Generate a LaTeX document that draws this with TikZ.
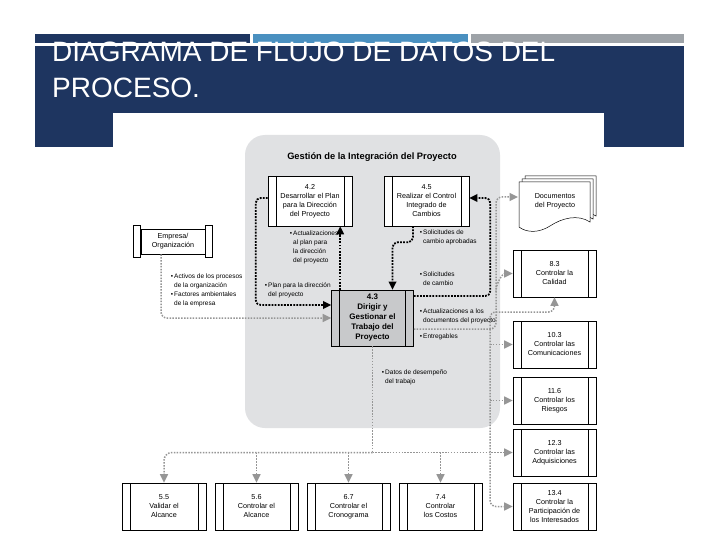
\documentclass[tikz,border=0pt]{standalone}
\usepackage{fontspec}
\setmainfont{Liberation Sans}
\usetikzlibrary{arrows.meta,calc}
\definecolor{navy}{RGB}{30,53,96}
\definecolor{stripeblue}{RGB}{74,144,192}
\definecolor{stripegray}{RGB}{158,163,168}
\definecolor{panelgray}{RGB}{224,225,227}
\definecolor{boxgray}{RGB}{200,201,203}
\definecolor{linegray}{RGB}{150,150,150}
\begin{document}
\begin{tikzpicture}[x=1pt,y=-1pt,
  proc/.style={draw, line width=0.6pt, fill=white, minimum width=83pt, minimum height=47pt,
    inner sep=0pt, align=center, font=\fontsize{7.2}{9}\selectfont,
    path picture={\draw[line width=0.6pt]
      ([xshift=8pt]path picture bounding box.north west) -- ([xshift=8pt]path picture bounding box.south west)
      ([xshift=-8pt]path picture bounding box.north east) -- ([xshift=-8pt]path picture bounding box.south east);}},
  lbl/.style={font=\fontsize{6.5}{8.7}\selectfont, align=left, inner sep=0pt, anchor=north west},
  blk/.style={draw=black, line width=1.8pt, dash pattern=on 1.8pt off 1.3pt},
  gry/.style={draw=linegray, line width=1.5pt, dash pattern=on 1.5pt off 1.4pt},
  tipb/.style={arrows={-Triangle[length=8pt,width=7.5pt]}},
  tipg/.style={arrows={-Triangle[length=8.5pt,width=8pt]}},
  ttl/.style={text=white, font=\fontsize{28}{36}\selectfont, inner sep=0pt, anchor=base west}
]
\useasboundingbox (0,0) rectangle (720,540);
\fill[white] (0,0) rectangle (720,540);
% header
\fill[navy] (35,34) rectangle (250,43);
\fill[stripeblue] (253,34) rectangle (468,43);
\fill[stripegray] (471,34) rectangle (684,43);
\fill[navy] (35,46) rectangle (684,147);
\node[ttl] (title1) at (52,62) {DIAGRAMA DE FLUJO DE DATOS DEL};
\node[ttl] (title2) at (52,98) {PROCESO.};
\fill[white] (113,113) rectangle (604,540);
% panel
\fill[panelgray, rounded corners=20pt] (245,135) rectangle (500,428);
\node[font=\bfseries\fontsize{9.3}{11}\selectfont, inner sep=0pt] (ptitle) at (372,157) {Gestión de la Integración del Proyecto};
% process nodes
\node[proc, minimum width=84pt, minimum height=50pt] (n42) at (310,201) {4.2\\Desarrollar el Plan\\para la Dirección\\del Proyecto};
\node[proc, minimum width=85pt, minimum height=50pt] (n45) at (426.5,201) {4.5\\Realizar el Control\\Integrado de\\Cambios};
\node[proc, fill=boxgray, minimum width=82pt, minimum height=56pt, font=\fontsize{8}{10}\selectfont\bfseries] (n43) at (372.5,318) {4.3\\Dirigir y\\Gestionar el\\Trabajo del\\Proyecto};
% empresa
\node[draw, line width=0.6pt, fill=white, minimum width=64pt, minimum height=25pt, inner sep=0pt, align=center, font=\fontsize{7.2}{9}\selectfont] (emp) at (173,241.5) {Empresa/\\Organización};
\draw[line width=0.6pt, fill=white] ([yshift=3pt]emp.north west) rectangle ([xshift=-7pt,yshift=-3pt]emp.south west);
\draw[line width=0.6pt, fill=white] ([yshift=3pt]emp.north east) rectangle ([xshift=7pt,yshift=-3pt]emp.south east);
% documents stack
\foreach \o in {6,3,0} {
  \filldraw[fill=white, line width=0.5pt] (519+\o,182-\o) -- (590+\o,182-\o) -- (590+\o,222-\o)
    .. controls (578+\o,214-\o) and (562+\o,218-\o) .. (550+\o,226-\o)
    .. controls (539+\o,233-\o) and (527+\o,233-\o) .. (519+\o,227-\o) -- cycle;
}
\node[font=\fontsize{7.2}{9}\selectfont, align=center, inner sep=0pt] (docs) at (555,201) {Documentos\\del Proyecto};
\coordinate (docin) at (518,197);
% right column
\node[proc] (q83) at (554.5,273.5) {8.3\\Controlar la\\Calidad};
\node[proc] (q103) at (554.5,344.5) {10.3\\Controlar las\\Comunicaciones};
\node[proc] (q116) at (554.5,400.5) {11.6\\Controlar los\\Riesgos};
\node[proc] (q123) at (554.5,452.5) {12.3\\Controlar las\\Adquisiciones};
\node[proc] (q134) at (554.5,506.5) {13.4\\Controlar la\\Participación de\\los Interesados};
% bottom row
\node[proc, minimum width=84pt] (b55) at (164,506.5) {5.5\\Validar el\\Alcance};
\node[proc] (b56) at (256.5,506.5) {5.6\\Controlar el\\Alcance};
\node[proc] (b67) at (348.5,506.5) {6.7\\Controlar el\\Cronograma};
\node[proc] (b74) at (440.5,506.5) {7.4\\Controlar\\los Costos};
% junction coordinates
\coordinate (d1) at (496,329);
\coordinate (v0) at (490,329);
\coordinate (e1) at (554.5,312);
\coordinate (b83) at (496,292);
\coordinate (hbus) at (372.5,452.5);
% black connectors
\draw[blk, tipb] ([xshift=9pt]n43.north west) -- ([xshift=9pt]n43.north west |- n42.south);
\draw[blk, tipb, rounded corners=5pt] ([yshift=3pt]n42.west) -- ++(-12,0) |- ([yshift=13pt]n43.west);
\draw[blk, tipb, rounded corners=5pt] ([xshift=-13.5pt]n45.south) -- ++(0,16) -| ([xshift=20pt]n43.north);
\draw[blk, tipb, rounded corners=5pt] ([yshift=22pt]n43.east) -| ([xshift=21pt,yshift=3pt]n45.east) -- ([yshift=3pt]n45.east);
% gray connectors
\draw[gry, tipg, rounded corners=6pt] ([xshift=-12pt]emp.south) |- (n43.west);
\draw[gry, tipg, rounded corners=6pt] ([yshift=-11pt]n43.east) -- (d1) |- (docin);
\draw[gry, tipg] (b83) to[out=90,in=180] (q83.west);
\draw[gry, tipg, rounded corners=6pt] (v0) |- (e1) -- (q83.south);
\draw[gry, tipg, rounded corners=6pt] (v0) |- (q134.west);
\draw[gry, tipg] (v0 |- q103.west) -- (q103.west);
\draw[gry, tipg] (v0 |- q116.west) -- (q116.west);
\draw[gry] (n43.south) -- (hbus);
\draw[gry, tipg] (hbus) -- (q123.west);
\draw[gry, tipg, rounded corners=8pt] (hbus) -| (b55.north);
\draw[gry, tipg] (b56.north |- hbus) -- (b56.north);
\draw[gry, tipg] (b67.north |- hbus) -- (b67.north);
\draw[gry, tipg] (b74.north |- hbus) -- (b74.north);
% labels
\node[lbl] (l1) at (293,231) {\llap{•\,}Actualizaciones\\al plan para\\la dirección\\del proyecto};
\node[lbl] (l2) at (268,283) {\llap{•\,}Plan para la dirección\\del proyecto};
\node[lbl] (l3) at (423,230) {\llap{•\,}Solicitudes de\\cambio aprobadas};
\node[lbl] (l4) at (423,272) {\llap{•\,}Solicitudes\\de cambio};
\node[lbl] (l5) at (423,309) {\llap{•\,}Actualizaciones a los\\documentos del proyecto};
\node[lbl] (l6) at (423,334) {\llap{•\,}Entregables};
\node[lbl] (l7) at (174,274) {\llap{•\,}Activos de los procesos\\de la organización\\\llap{•\,}Factores ambientales\\de la empresa};
\node[lbl] (l8) at (385,370) {\llap{•\,}Datos de desempeño\\del trabajo};
\end{tikzpicture}
\end{document}
